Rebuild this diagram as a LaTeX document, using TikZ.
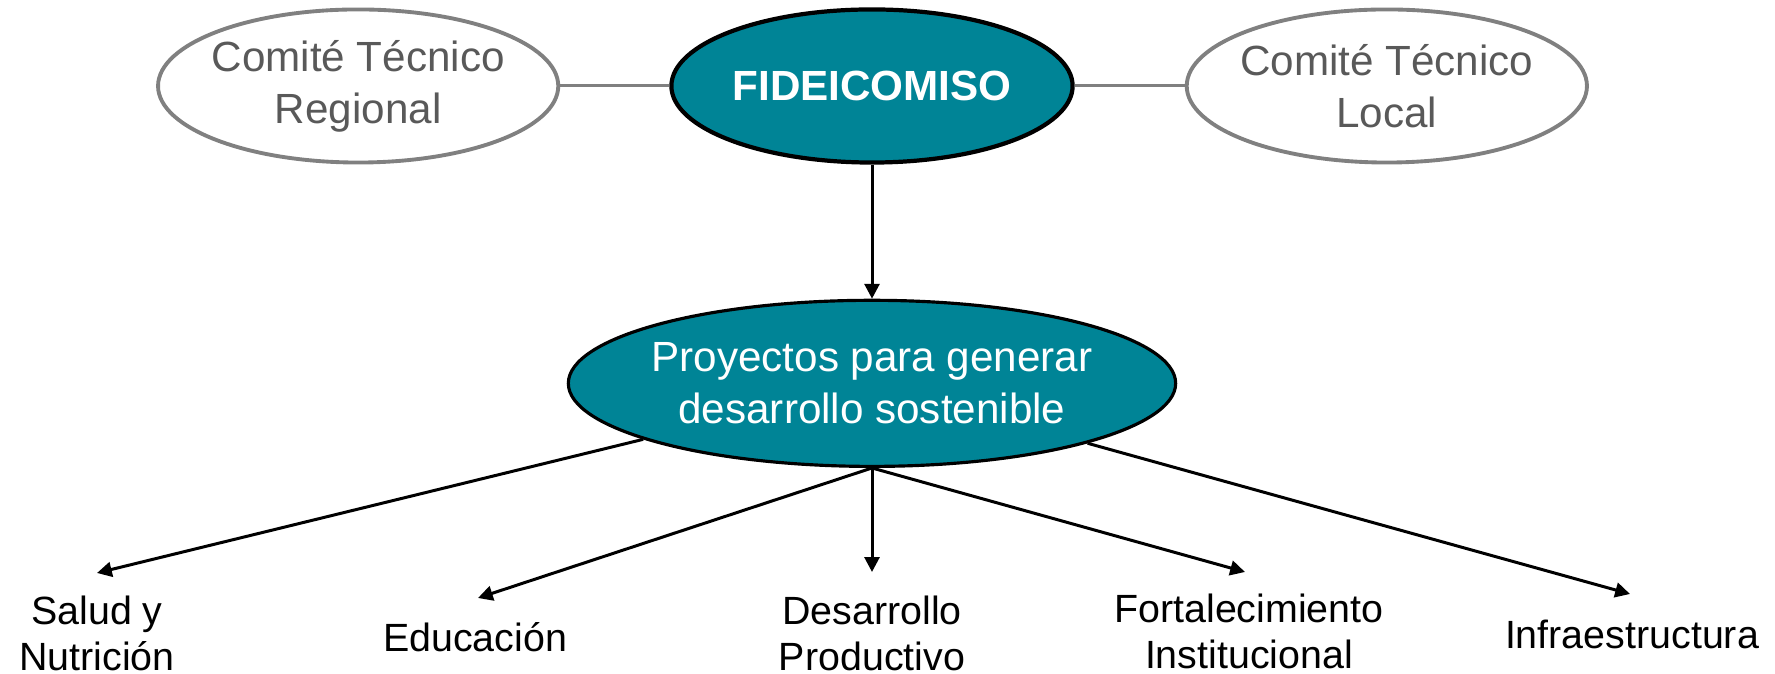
\documentclass[tikz,border=0pt]{standalone}
\usepackage{fontspec}
\setmainfont{Liberation Sans}
\usetikzlibrary{shapes.geometric, arrows.meta, positioning}
\definecolor{fideteal}{RGB}{0,132,150}
\definecolor{comgray}{RGB}{128,128,128}
\definecolor{comtext}{RGB}{89,89,89}
\tikzset{
    oval/.style={ellipse, inner sep=0pt, inner xsep=-3mm, align=center,
        font=\fontsize{12}{14.8}\selectfont},
    comite/.style={oval, draw=comgray, line width=1.1pt, text=comtext,
        minimum width=4cm, minimum height=1.53cm},
    fide/.style={oval, draw=black, fill=fideteal, text=white},
    area/.style={align=center, font=\fontsize{11.2}{13.1}\selectfont},
    link/.style={draw=comgray, line width=0.85pt},
    arr/.style={-{Triangle[length=4.2pt,width=4.2pt]}, line width=0.85pt}
}

\begin{document}
\begin{tikzpicture}[x=0.01cm, y=-0.01cm]
            \useasboundingbox (0,0) rectangle (1775,674);
            \node [fide, line width=1.2pt, minimum width=4.01cm, minimum height=1.53cm] (fide) at (872,86) {\textbf{FIDEICOMISO}};
            \node [comite, left=1.09cm of fide] (regional) {Comité Técnico\\Regional};
            \node [comite, right=1.1cm of fide] (local) {Comité Técnico\\Local};
            \node [fide, line width=0.9pt, minimum width=6.07cm, minimum height=1.66cm, below=1.34cm of fide] (proy) {Proyectos para generar\\desarrollo sostenible};
            \node [area] (salud) at (97,633) {Salud y\\Nutrición};
            \node [area] (edu) at (475,637) {Educación};
            \node [area] (desa) at (872,633) {Desarrollo\\Productivo};
            \node [area] (fort) at (1249,631) {Fortalecimiento\\Institucional};
            \node [area] (infra) at (1632,634) {Infraestructura};
            \coordinate (salud tip) at (97,573);
            \coordinate (edu tip) at (478,598);
            \coordinate (desa tip) at (872,572);
            \coordinate (fort tip) at (1245,572);
            \coordinate (infra tip) at (1630,594);
            \draw [link] (regional) -- (fide);
            \draw [link] (fide) -- (local);
            \draw [arr] (fide) -- (proy);
            \draw [arr] (proy) -- (salud tip);
            \draw [arr] (proy.south) -- (edu tip);
            \draw [arr] (proy.south) -- (desa tip);
            \draw [arr] (proy.south) -- (fort tip);
            \draw [arr] (proy) -- (infra tip);
        \end{tikzpicture}
\end{document}
